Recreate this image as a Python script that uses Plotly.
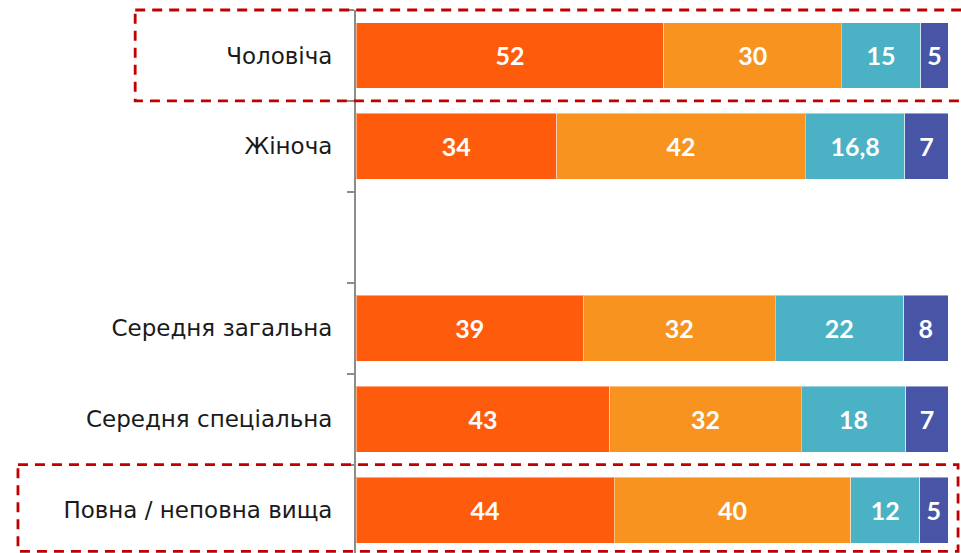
import plotly.graph_objects as go

# Category slots (one blank spacer slot between the two groups)
categories = ["Чоловіча", "Жіноча", " ", "Середня загальна",
              "Середня спеціальна", "Повна / неповна вища"]
rows = ["Чоловіча", "Жіноча", "Середня загальна",
        "Середня спеціальна", "Повна / неповна вища"]

# Bar lengths (shares)
s1 = [52.0, 33.9, 38.4, 42.9, 43.6]
s2 = [30.0, 42.0, 32.4, 32.3, 40.0]
s3 = [13.4, 16.8, 21.7, 17.7, 11.6]
s4 = [4.6, 7.3, 7.5, 7.1, 4.8]

# Printed data labels
l1 = ["52", "34", "39", "43", "44"]
l2 = ["30", "42", "32", "32", "40"]
l3 = ["15", "16,8", "22", "18", "12"]
l4 = ["5", "7", "8", "7", "5"]

colors = ["#FF5B0D", "#F7931E", "#4BB1C5", "#4855A7"]

fig = go.Figure()
for vals, labs, col in zip([s1, s2, s3, s4], [l1, l2, l3, l4], colors):
    fig.add_trace(go.Bar(
        y=rows, x=vals, orientation="h", text=labs,
        textposition="inside", insidetextanchor="middle", textangle=0,
        insidetextfont=dict(family="Lato", size=25, color="white", weight="bold"),
        marker=dict(color=col, line=dict(color="rgba(255,255,255,0.45)", width=1)),
        showlegend=False, hoverinfo="skip",
    ))

Y_TOP = -0.5
Y_BOT = 5.4725

def yp(v):
    return (Y_BOT - v) / (Y_BOT - Y_TOP)

dash_line = dict(color="#C00000", width=2.8, dash="10px,7px")
shapes = [
    dict(type="rect", xref="paper", yref="paper",
         x0=-0.373, x1=1.05, y0=yp(-0.5), y1=yp(0.5), line=dash_line),
    dict(type="rect", xref="paper", yref="paper",
         x0=-0.571, x1=1.017, y0=yp(4.5), y1=0.003, line=dash_line),
]

fig.update_layout(
    barmode="stack", bargap=0.275,
    width=961, height=553,
    margin=dict(l=356, r=13, t=9.5, b=0),
    paper_bgcolor="white", plot_bgcolor="white",
    shapes=shapes,
    xaxis=dict(range=[0, 100], visible=False, fixedrange=True),
    yaxis=dict(
        type="category", categoryorder="array", categoryarray=categories,
        range=[Y_BOT, Y_TOP], tickson="boundaries",
        ticks="outside", ticklen=7, tickwidth=2, tickcolor="#8C8C8C",
        showline=True, linecolor="#8C8C8C", linewidth=2,
        showgrid=False, zeroline=False, ticklabelstandoff=17,
        tickfont=dict(family="DejaVu Sans", size=23, color="#1A1A1A"),
        fixedrange=True,
    ),
)

fig.write_html(
    "out.html",
    config={"displayModeBar": False, "staticPlot": True},
    post_script="document.body.style.margin='0';document.body.style.padding='0';",
)
